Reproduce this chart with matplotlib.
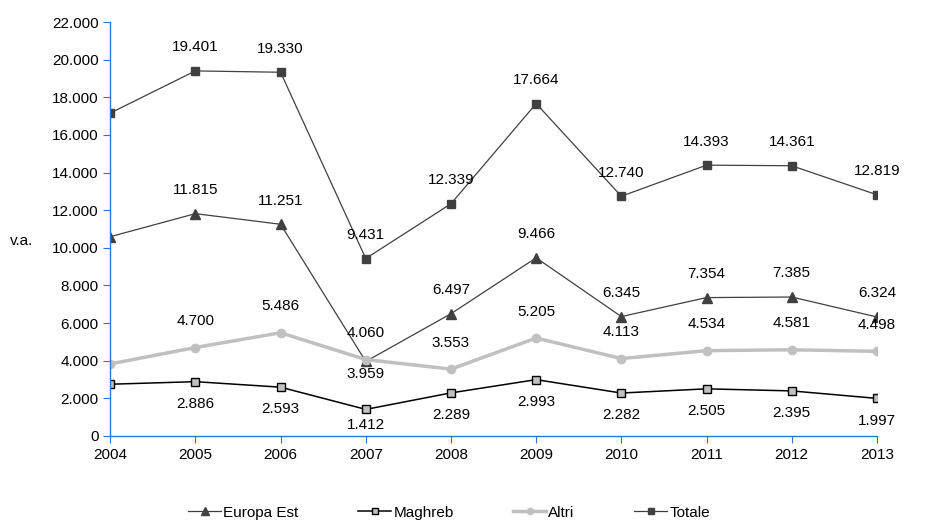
import matplotlib.pyplot as plt
from matplotlib.ticker import FuncFormatter

plt.rcParams['font.family'] = ['Liberation Sans', 'DejaVu Sans']

years = [2004, 2005, 2006, 2007, 2008, 2009, 2010, 2011, 2012, 2013]
europa_est = [10590, 11815, 11251, 3959, 6497, 9466, 6345, 7354, 7385, 6324]
maghreb = [2750, 2886, 2593, 1412, 2289, 2993, 2282, 2505, 2395, 1997]
altri = [3830, 4700, 5486, 4060, 3553, 5205, 4113, 4534, 4581, 4498]
totale = [17160, 19401, 19330, 9431, 12339, 17664, 12740, 14393, 14361, 12819]

def fmt(v):
    return f'{v:,.0f}'.replace(',', '.')

fs = 11
fig = plt.figure(figsize=(9.26, 5.24), dpi=100)
ax = fig.add_axes([0.119, 0.168, 0.828, 0.790])

axis_col = '#2a78d6'
ax.plot(years, europa_est, color='#404040', lw=0.9, marker='^', ms=7,
        mfc='#404040', mec='#404040', label='Europa Est')
ax.plot(years, maghreb, color='#000000', lw=1.1, marker='s', ms=6,
        mfc='#c0c0c0', mec='#000000', mew=1.0, label='Maghreb')
ax.plot(years, altri, color='#c0c0c0', lw=2.5, marker='o', ms=6,
        mfc='#c0c0c0', mec='#c0c0c0', label='Altri')
ax.plot(years, totale, color='#404040', lw=0.9, marker='s', ms=6,
        mfc='#404040', mec='#404040', label='Totale')

def labels(vals, dy, special=None):
    special = special or {}
    for i, (x, v) in enumerate(zip(years, vals)):
        if i == 0:
            continue
        off = special.get(i, dy)
        ax.annotate(fmt(v), (x, v), xytext=(0, off), textcoords='offset points',
                    ha='center', va='center', fontsize=fs)

labels(totale, 17)
labels(europa_est, 17, {3: -9})
labels(altri, 19)
labels(maghreb, -16, {3: -11})

ax.set_xlim(2004, 2013)
ax.set_ylim(0, 22000)
ax.set_xticks(years)
ax.set_yticks(range(0, 22001, 2000))
ax.yaxis.set_major_formatter(FuncFormatter(lambda v, p: fmt(v)))
for s in ['top', 'right']:
    ax.spines[s].set_visible(False)
for s in ['left', 'bottom']:
    ax.spines[s].set_color(axis_col)
    ax.spines[s].set_linewidth(1.0)
ax.tick_params(axis='both', colors=axis_col, labelcolor='black', labelsize=fs,
               length=5, direction='out')
ax.set_ylabel('v.a.', rotation=0, fontsize=fs)
ax.yaxis.set_label_coords(-0.115, 0.455)
ax.margins(x=0)

fig.legend(loc='lower center', ncol=4, frameon=False, fontsize=fs,
           bbox_to_anchor=(0.485, -0.018), handlelength=2.15, handletextpad=0.15,
           columnspacing=3.9, markerscale=0.75)

fig.savefig('out.png', dpi=100)
